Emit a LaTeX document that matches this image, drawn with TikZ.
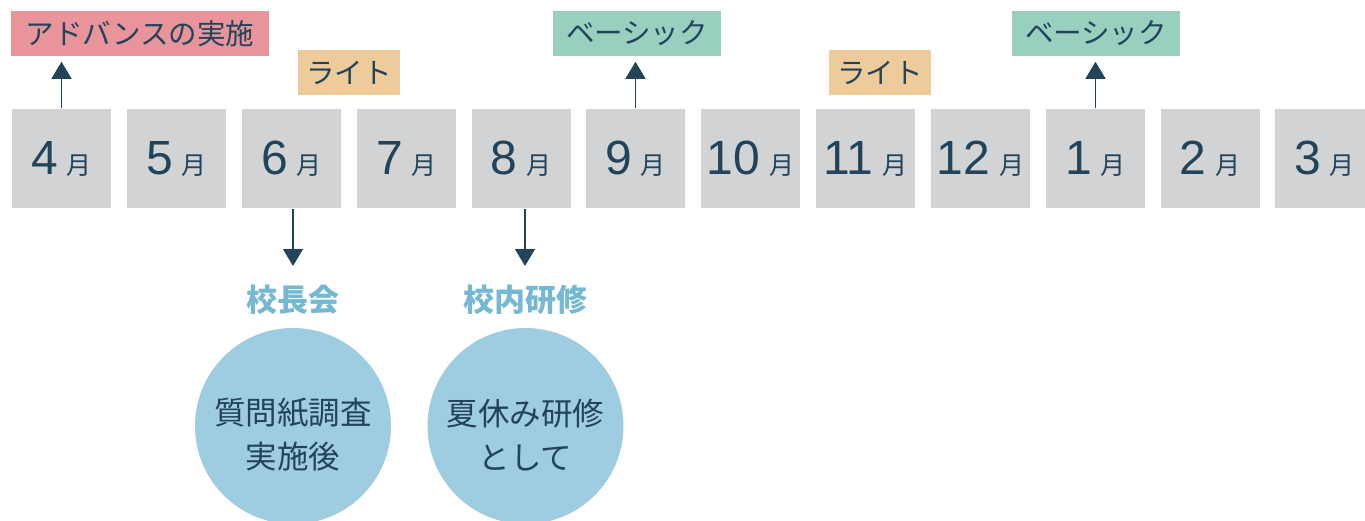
\documentclass[tikz,border=0pt]{standalone}
\usepackage{fontspec}
\setmainfont{Noto Sans CJK JP}
\newfontfamily\numfont{Liberation Sans}
\usetikzlibrary{arrows.meta}
\definecolor{navy}{HTML}{22435A}
\definecolor{monthGray}{HTML}{D1D3D5}
\definecolor{advPink}{HTML}{E8949A}
\definecolor{liteOrange}{HTML}{EECB9A}
\definecolor{basicGreen}{HTML}{98CFBE}
\definecolor{circBlue}{HTML}{9ECCE0}
\definecolor{headBlue}{HTML}{74B8D2}
\newcommand{\monthlabel}[1]{{\numfont\fontsize{48}{48}\selectfont #1}\hspace{9pt}{\fontsize{25}{25}\selectfont 月}}

\begin{document}
\begin{tikzpicture}[x=1pt, y=-1pt, >={Triangle[width=20pt,length=17pt]}, line width=1.5pt, navy]
  \tikzstyle{M}=[fill=monthGray, minimum size=99pt, inner sep=0pt, text=navy]
  \tikzstyle{L}=[minimum height=45pt, inner sep=0pt, text=navy, font=\fontsize{28.5}{28.5}\selectfont]
  \tikzstyle{H}=[text=headBlue, inner sep=0pt, font=\bfseries\fontsize{31}{31}\selectfont]
  \tikzstyle{R}=[circle, fill=circBlue, minimum size=196pt, inner sep=0pt]
  \tikzstyle{T}=[align=center, text=navy, inner sep=0pt, font=\fontsize{31.5}{44}\selectfont]

  \useasboundingbox (0,0) rectangle (1365,520);

  \node[M] at (61.5,158.5) (m4) {\monthlabel{4}};
  \node[M] at (176.5,158.5) (m5) {\monthlabel{5}};
  \node[M] at (291.5,158.5) (m6) {\monthlabel{6}};
  \node[M] at (406.5,158.5) (m7) {\monthlabel{7}};
  \node[M] at (521,158.5) (m8) {\monthlabel{8}};
  \node[M] at (635.5,158.5) (m9) {\monthlabel{9}};
  \node[M] at (750.5,158.5) (m10) {\monthlabel{10}};
  \node[M] at (865.5,158.5) (m11) {\monthlabel{11}};
  \node[M] at (980.5,158.5) (m12) {\monthlabel{12}};
  \node[M] at (1095.5,158.5) (m1) {\monthlabel{1}};
  \node[M] at (1210,158.5) (m2) {\monthlabel{2}};
  \node[M] at (1324.5,158.5) (m3) {\monthlabel{3}};

  \node[L, fill=advPink, minimum width=258pt] at (140,33.5) (adv) {アドバンスの実施};
  \node[L, fill=liteOrange, minimum width=102pt] at (349,72.5) (lite1) {ライト};
  \node[L, fill=basicGreen, minimum width=168pt] at (637,33.5) (basic1) {ベーシック};
  \node[L, fill=liteOrange, minimum width=102pt] at (880,72.5) (lite2) {ライト};
  \node[L, fill=basicGreen, minimum width=168pt] at (1096,33.5) (basic2) {ベーシック};

  \draw[->, shorten >=5pt] (m4.north) -- (m4.north |- adv.south);
  \draw[->, shorten >=5pt] (m9.north) -- (m9.north |- basic1.south);
  \draw[->, shorten >=5pt] (m1.north) -- (m1.north |- basic2.south);

  \node[H] at (293,300) (kocho) {校長会};
  \node[H] at (525,300) (kenshu) {校内研修};
  \coordinate (tip1) at (293,266);
  \coordinate (tip2) at (525,266);
  \draw[->] (kocho |- m6.south) -- (tip1);
  \draw[->] (kenshu |- m8.south) -- (tip2);

  \node[R] at (293,426) (c1) {};
  \node[R] at (525.5,426) (c2) {};
  \node[T] at (293,435) (c1t) {質問紙調査\\実施後};
  \node[T] at (525.5,435) (c2t) {夏休み研修\\として};

\end{tikzpicture}
\end{document}
